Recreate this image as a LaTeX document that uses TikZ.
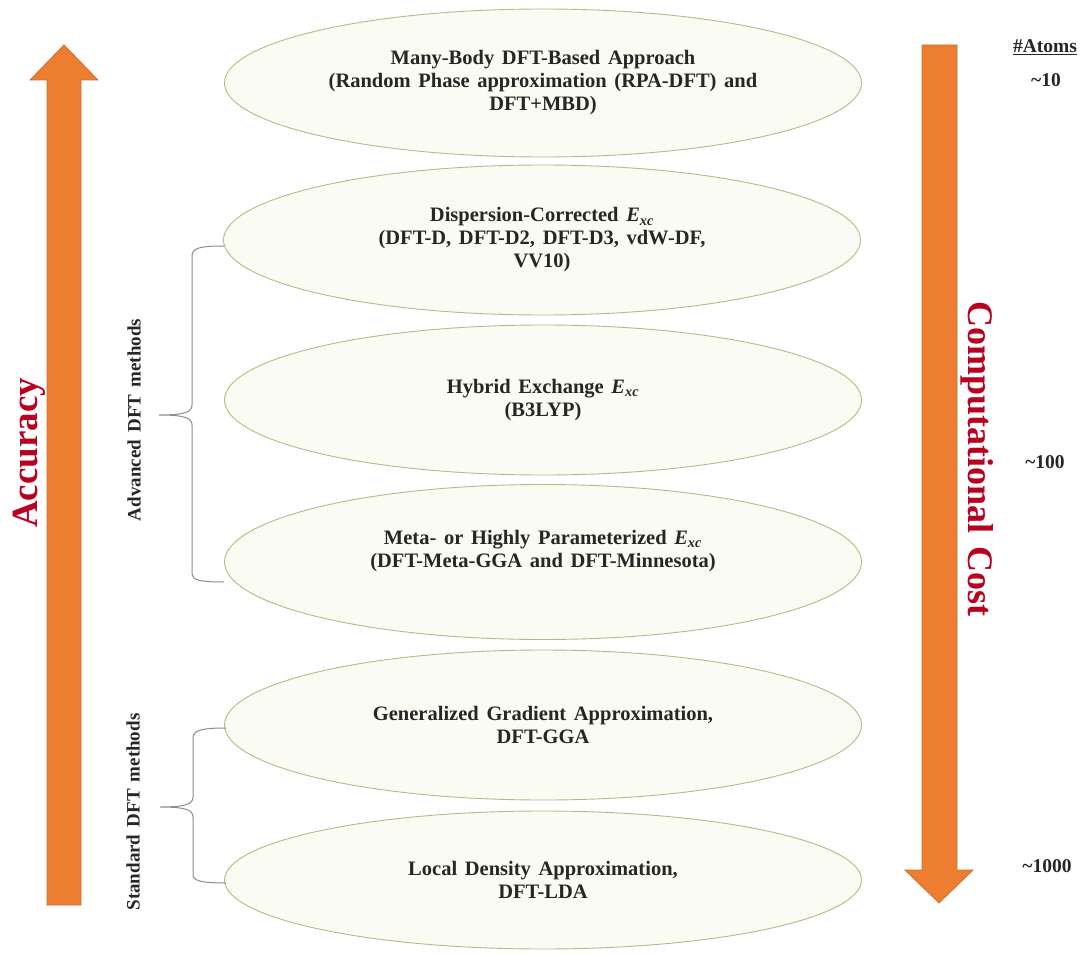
\documentclass[tikz,border=0pt]{standalone}
\usepackage{fontspec}
\setmainfont[WordSpace=1.5]{Liberation Serif}
\usetikzlibrary{shapes.geometric}

\definecolor{arroworange}{HTML}{ED7D31}
\definecolor{arrowedge}{HTML}{C87235}
\definecolor{titlered}{HTML}{B8001F}
\definecolor{ovalfill}{HTML}{FAFBF2}
\definecolor{ovaledge}{HTML}{A9C184}
\definecolor{bracegray}{HTML}{8C8C8C}
\newcommand{\Exc}{\textit{E}\textsubscript{\textit{xc}}}

\begin{document}
\begin{tikzpicture}[x=1pt,y=-1pt,
    oval/.style={ellipse,draw=ovaledge,fill=ovalfill,line width=0.9pt,
      minimum width=637pt,inner sep=0pt,align=center,text=black!85,
      font=\fontsize{20.5}{23}\selectfont\bfseries},
    bigarrow/.style={fill=arroworange,draw=arrowedge,line width=0.8pt},
    brace/.style={draw=bracegray,line width=1pt},
    sidelabel/.style={font=\fontsize{19}{20}\selectfont\bfseries,text=black!85},
    atoms/.style={font=\fontsize{19.5}{20}\selectfont\bfseries,text=black!85}]
    \useasboundingbox (0,0) rectangle (1081,955);

    % accuracy arrow (up)
    \draw [bigarrow] (47,905) -- (47,80) -- (30,80) -- (64,45) -- (98,80) -- (81,80) -- (81,905) -- cycle;
    \node [rotate=90,text=titlered,font=\fontsize{37}{37}\selectfont\bfseries] (acc) at (29,453) {Accuracy};

    % cost arrow (down)
    \draw [bigarrow] (922,45) -- (957,45) -- (957,870) -- (973,870) -- (939,903) -- (905,870) -- (922,870) -- cycle;
    \node [rotate=-90,text=titlered,font=\fontsize{36}{36}\selectfont\bfseries] (cost) at (977,459) {Computational Cost};

    % the methods
    \node [oval,minimum height=148pt] (mbd) at (543,83)
      {Many-Body DFT-Based Approach\\(Random Phase approximation (RPA-DFT) and\\DFT+MBD)};
    \node [oval,minimum height=150pt] (disp) at (542,240)
      {Dispersion-Corrected \Exc\\(DFT-D, DFT-D2, DFT-D3, vdW-DF,\\VV10)};
    \node [oval,minimum height=150pt] (hyb) at (543,400)
      {Hybrid Exchange \Exc\\(B3LYP)};
    \node [oval,minimum height=155pt] (meta) at (543,562)
      {Meta- or Highly Parameterized \Exc\\(DFT-Meta-GGA and DFT-Minnesota)\\[4pt]};
    \node [oval,minimum height=150pt] (gga) at (543,725)
      {Generalized Gradient Approximation,\\DFT-GGA};
    \node [oval,minimum height=138pt] (lda) at (543,880)
      {Local Density Approximation,\\DFT-LDA};

    % braces
    \draw [brace] (224,246) .. controls (200,246) and (192,248) .. (192,256) -- (192,405)
      .. controls (192,412) and (185,415) .. (159,415)
      .. controls (185,415) and (192,418) .. (192,425) -- (192,574)
      .. controls (192,580) and (200,582) .. (224,582);
    \draw [brace] (226,728) .. controls (203,728) and (193,730) .. (193,738) -- (193,797)
      .. controls (193,804) and (186,807) .. (160,807)
      .. controls (186,807) and (193,810) .. (193,817) -- (193,875)
      .. controls (193,881) and (203,883) .. (226,883);
    \node [sidelabel,rotate=90] (adv) at (134,420) {Advanced DFT methods};
    \node [sidelabel,rotate=90] (std) at (133,812) {Standard DFT methods};

    % atom counts
    \node [atoms] (head) at (1045,47) {\underline{\#Atoms}};
    \node [atoms] (n10) at (1046,80) {\textasciitilde10};
    \node [atoms] (n100) at (1045,462) {\textasciitilde100};
    \node [atoms] (n1000) at (1047,866) {\textasciitilde1000};
\end{tikzpicture}
\end{document}
